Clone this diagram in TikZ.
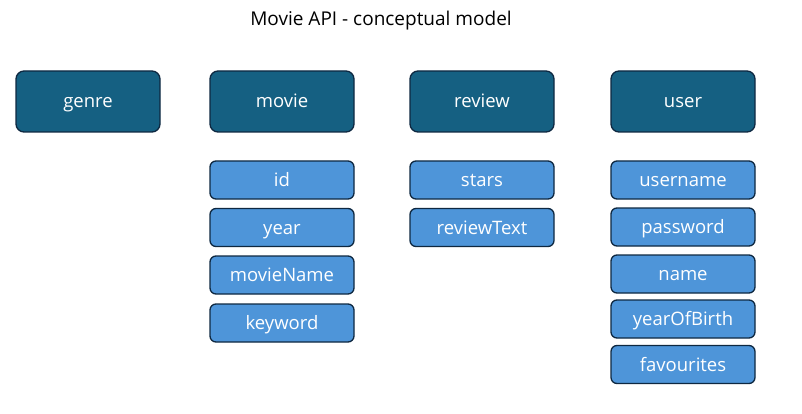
\documentclass[tikz,border=0pt]{standalone}
\usepackage{fontspec}
\setmainfont{Open Sans}
\definecolor{dark}{HTML}{156082}
\definecolor{light}{HTML}{4E95D9}
\definecolor{edge}{HTML}{0E2841}
\begin{document}
\begin{tikzpicture}[x=1pt,y=-1pt,
  entity/.style={draw=edge,line width=1.3pt,fill=dark,rounded corners=8pt,minimum width=144pt,minimum height=61pt,text=white,font=\fontsize{18.5}{20}\selectfont,inner sep=0pt,text height=13pt,text depth=0pt},
  attr/.style={draw=edge,line width=1.3pt,fill=light,rounded corners=6pt,minimum width=144pt,minimum height=38pt,text=white,font=\fontsize{18.5}{20}\selectfont,inner sep=0pt,text height=13pt,text depth=0pt}]
\useasboundingbox (0,0) rectangle (802,414);
\node[font=\fontsize{19}{22}\selectfont] (title) at (381,21) {Movie API - conceptual model};
\node[entity] (genre) at (88,101.5) {genre};
\node[entity] (movie) at (282,101.5) {movie};
\node[entity] (review) at (482,101.5) {review};
\node[entity] (user) at (683,101.5) {user};
\node[attr] (id) at (282,180) {id};
\node[attr] (year) at (282,227.5) {year};
\node[attr] (movieName) at (282,275) {movieName};
\node[attr] (keyword) at (282,323) {keyword};
\node[attr] (stars) at (482,180) {stars};
\node[attr] (reviewText) at (482,227.5) {reviewText};
\node[attr] (username) at (683,180) {username};
\node[attr] (password) at (683,227) {password};
\node[attr] (name) at (683,274) {name};
\node[attr] (yearOfBirth) at (683,319) {yearOfBirth};
\node[attr] (favourites) at (683,364.5) {favourites};
\end{tikzpicture}
\end{document}
